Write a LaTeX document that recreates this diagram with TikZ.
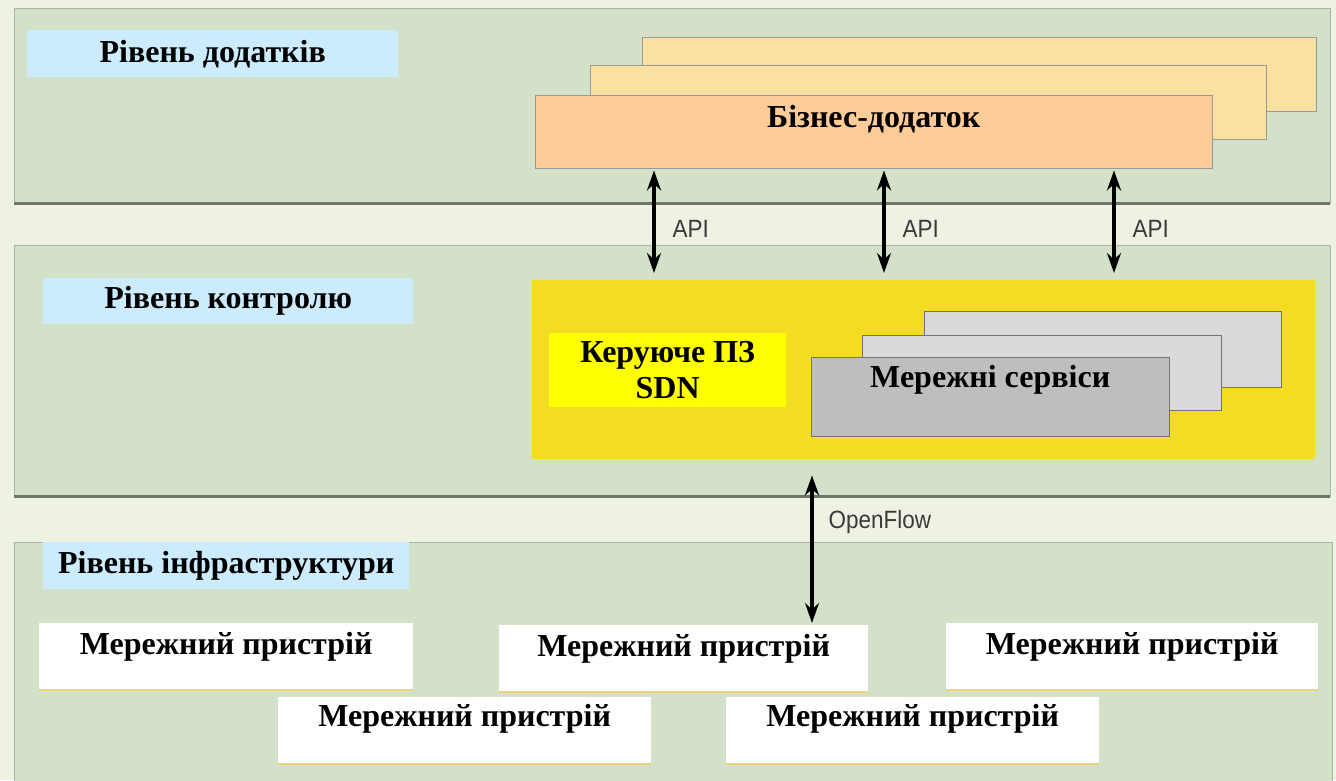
\documentclass[tikz,border=0pt]{standalone}
\usepackage{fontspec}
\setmainfont{Liberation Serif}
\setsansfont{Liberation Sans}
\usetikzlibrary{arrows.meta,positioning}

\definecolor{bgcream}{HTML}{EEF2E2}
\definecolor{panelgreen}{HTML}{D3E1C9}
\definecolor{panelborder}{HTML}{A9B5A2}
\definecolor{shadowgray}{HTML}{6E756A}
\definecolor{tagblue}{HTML}{CCEBFD}
\definecolor{appfront}{HTML}{FFCC99}
\definecolor{appback}{HTML}{FBE0A0}
\definecolor{ctrlyellow}{HTML}{F4DC22}
\definecolor{sdnyellow}{HTML}{FFFF00}
\definecolor{svcfront}{HTML}{BEBEBE}
\definecolor{svcback}{HTML}{DADADA}
\definecolor{devline}{HTML}{F2D27A}
\definecolor{labelgray}{HTML}{3A3A3A}

\newcommand{\bigbf}{\fontsize{32}{36}\selectfont\bfseries}
\tikzstyle{panel} = [rectangle, draw=panelborder, fill=panelgreen, anchor=north west, inner sep=0pt]
\tikzstyle{shadowline} = [draw=shadowgray, line width=2.5pt]
\tikzstyle{tag} = [rectangle, fill=tagblue, anchor=north west, inner sep=0pt, font=\bigbf]
\tikzstyle{appbox} = [rectangle, draw=gray!80, fill=appfront, anchor=north west, inner sep=0pt]
\tikzstyle{appstack} = [rectangle, draw=gray!80, fill=appback, anchor=north west, inner sep=0pt]
\tikzstyle{ctrl} = [rectangle, fill=ctrlyellow, anchor=north west, inner sep=0pt]
\tikzstyle{sdn} = [rectangle, fill=sdnyellow, anchor=north west, inner sep=0pt, align=center, font=\bigbf]
\tikzstyle{svcbox} = [rectangle, draw=gray!90!black, fill=svcfront, anchor=north west, inner sep=0pt]
\tikzstyle{svcstack} = [rectangle, draw=gray!90!black, fill=svcback, anchor=north west, inner sep=0pt]
\tikzstyle{devbox} = [rectangle, fill=white, anchor=north west, inner sep=0pt]
\tikzstyle{boxtext} = [font=\bigbf, inner sep=0pt]
\tikzstyle{biarrow} = [draw, {Stealth[length=20pt,width=14pt]}-{Stealth[length=20pt,width=14pt]}, line width=3.5pt]
\tikzstyle{proto} = [text=labelgray, font=\sffamily\fontsize{25}{30}\selectfont, xscale=0.9, inner sep=0pt]

\begin{document}
\begin{tikzpicture}[x=1pt, y=-1pt]
    \fill[bgcream] (0,0) rectangle (1336,780);
    \useasboundingbox (0,0) rectangle (1336,780);

    % three layers
    \node[panel, minimum width=1316pt, minimum height=195pt] (apps) at (14,8) {};
    \node[panel, minimum width=1316pt, minimum height=251pt] (control) at (14,245) {};
    \node[panel, minimum width=1318pt, minimum height=240pt] (infra) at (14,542) {};
    \path[shadowline] (apps.south west) -- (apps.south east);
    \path[shadowline] (control.south west) -- (control.south east);

    \node[tag, minimum width=371pt, minimum height=47pt] (tapps) at (27,30) {Рівень додатків};
    \node[tag, minimum width=370pt, minimum height=46pt] (tcontrol) at (43,278) {Рівень контролю};
    \node[tag, minimum width=366pt, minimum height=47pt] (tinfra) at (43,542) {Рівень інфраструктури};

    % application layer
    \node[appstack, minimum width=674pt, minimum height=74pt] (app3) at (642,37) {};
    \node[appstack, minimum width=676pt, minimum height=74pt] (app2) at (590,65) {};
    \node[appbox, minimum width=677pt, minimum height=73pt] (app) at (535,95) {};
    \node[boxtext, yshift=-24pt] (apptext) at (app.north) {Бізнес-додаток};

    % control layer
    \node[ctrl, minimum width=783pt, minimum height=179pt] (ctrl) at (532,280) {};
    \node[sdn, minimum width=237pt, minimum height=74pt] (sdn) at (549,333) {Керуюче ПЗ\\SDN};
    \node[svcstack, minimum width=357pt, minimum height=76pt] (svc3) at (924,311) {};
    \node[svcstack, minimum width=359pt, minimum height=75pt] (svc2) at (862,335) {};
    \node[svcbox, minimum width=358pt, minimum height=79pt] (svc) at (811,357) {};
    \node[boxtext, yshift=-23pt] (svctext) at (svc.north) {Мережні сервіси};

    % infrastructure layer
    \node[devbox, minimum width=374pt, minimum height=67pt] (dev1) at (39,623) {};
    \node[devbox, minimum width=369pt, minimum height=67pt] (dev2) at (499,625) {};
    \node[devbox, minimum width=372pt, minimum height=67pt] (dev3) at (946,623) {};
    \node[devbox, minimum width=373pt, minimum height=67pt] (dev4) at (278,697) {};
    \node[devbox, minimum width=373pt, minimum height=67pt] (dev5) at (726,697) {};
    \path[draw=devline, line width=2pt] (dev1.south west) -- (dev1.south east);
    \path[draw=devline, line width=2pt] (dev2.south west) -- (dev2.south east);
    \path[draw=devline, line width=2pt] (dev3.south west) -- (dev3.south east);
    \path[draw=devline, line width=2pt] (dev4.south west) -- (dev4.south east);
    \path[draw=devline, line width=2pt] (dev5.south west) -- (dev5.south east);
    \node[boxtext, yshift=-24pt] at (dev1.north) {Мережний пристрій};
    \node[boxtext, yshift=-24pt] at (dev2.north) {Мережний пристрій};
    \node[boxtext, yshift=-24pt] at (dev3.north) {Мережний пристрій};
    \node[boxtext, yshift=-22pt] at (dev4.north) {Мережний пристрій};
    \node[boxtext, yshift=-22pt] at (dev5.north) {Мережний пристрій};

    % interfaces
    \coordinate (api1) at (654,0);
    \coordinate (api2) at (884,0);
    \coordinate (api3) at (1114,0);
    \coordinate (of) at (812,0);
    \path[biarrow, shorten <=2pt, shorten >=7pt] (app.south -| api1) -- node[proto, pos=0.54, right=17pt] {API} (ctrl.north -| api1);
    \path[biarrow, shorten <=2pt, shorten >=7pt] (app.south -| api2) -- node[proto, pos=0.54, right=17pt] {API} (ctrl.north -| api2);
    \path[biarrow, shorten <=2pt, shorten >=7pt] (app.south -| api3) -- node[proto, pos=0.54, right=17pt] {API} (ctrl.north -| api3);
    \path[biarrow, shorten <=16pt, shorten >=2pt] (ctrl.south -| of) -- node[proto, pos=0.38, right=15pt] {OpenFlow} (dev2.north -| of);
\end{tikzpicture}
\end{document}
